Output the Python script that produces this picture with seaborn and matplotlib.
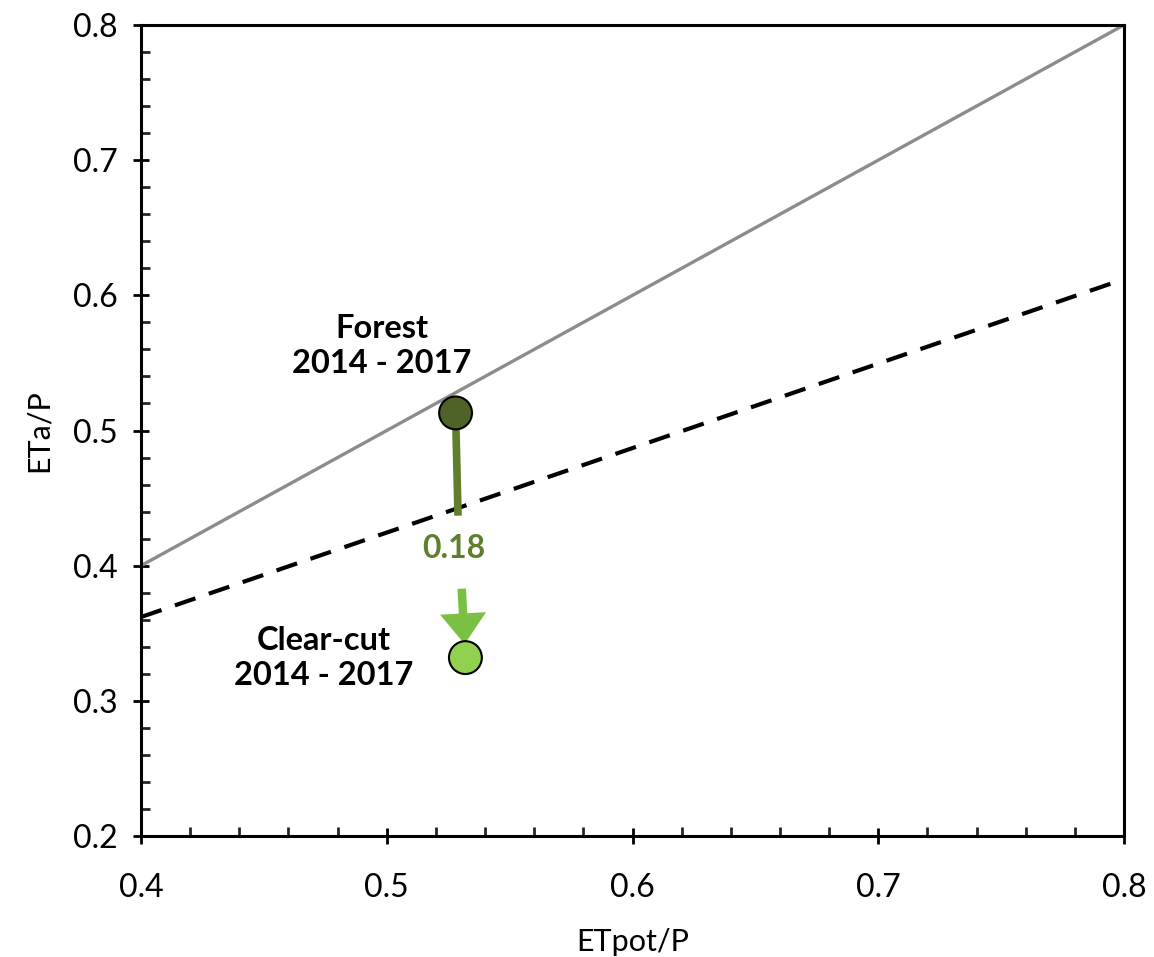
import numpy as np
import pandas as pd
import matplotlib
matplotlib.use("Agg")
import matplotlib.pyplot as plt
import seaborn as sns
from matplotlib.ticker import MultipleLocator

# ---- data ----
one_to_one_x = [0.4, 0.8]
one_to_one_y = [0.4, 0.8]
dashed_x = [0.4, 0.8]
dashed_y = [0.362, 0.612]
site_names = ["Forest", "Clear-cut"]
site_labels = ["Forest\n2014 - 2017", "Clear-cut\n2014 - 2017"]
etpot_p = [0.528, 0.532]
eta_p = [0.513, 0.332]
delta_label = "0.18"

sns.set_theme(style="ticks")
plt.rcParams['font.family'] = ['Lato', 'DejaVu Sans']
plt.rcParams['text.color'] = 'black'
plt.rcParams['axes.labelcolor'] = 'black'

fig = plt.figure(figsize=(11.54, 9.57), dpi=100)
ax = fig.add_axes([0.1222, 0.1264, 0.974 - 0.1222, 0.9739 - 0.1264])

sns.lineplot(x=one_to_one_x, y=one_to_one_y, ax=ax, color="#8c8c8c", lw=2.4)
sns.lineplot(x=dashed_x, y=dashed_y, ax=ax, color="black", lw=3)
ax.lines[-1].set_dashes([5.2, 3.4])

# arrow: upper dark part
ax.plot([etpot_p[0], 0.529], [eta_p[0], 0.437], color="#5f7f2f", lw=5.5,
        solid_capstyle="butt", zorder=3)
ax.text(0.5275, 0.413, delta_label, color="#5f7f2f", fontsize=23,
        fontweight="bold", ha="center", va="center")
ax.annotate("", xy=(etpot_p[1] - 0.0003, 0.342), xytext=(0.5305, 0.383),
            arrowprops=dict(arrowstyle="simple,head_length=1.3,head_width=1.95,tail_width=0.36",
                            mutation_scale=17, color="#7ac143", lw=0,
                            shrinkA=0, shrinkB=0),
            zorder=3)

df = pd.DataFrame({"site": site_names, "x": etpot_p, "y": eta_p})
sns.scatterplot(data=df, x="x", y="y", hue="site", ax=ax,
                palette={"Forest": "#4f6228", "Clear-cut": "#92d050"},
                s=560, edgecolor="black", linewidth=1.5, legend=False, zorder=4)

ax.text(0.498, 0.5625, site_labels[0], fontsize=23.5, fontweight="bold",
        ha="center", va="center", linespacing=1.25, color="black")
ax.text(0.4745, 0.3317, site_labels[1], fontsize=23.5, fontweight="bold",
        ha="center", va="center", linespacing=1.25, color="black")

ax.set_xlim(0.4, 0.8)
ax.set_ylim(0.2, 0.8)
ax.xaxis.set_major_locator(MultipleLocator(0.1))
ax.yaxis.set_major_locator(MultipleLocator(0.1))
ax.xaxis.set_minor_locator(MultipleLocator(0.02))
ax.yaxis.set_minor_locator(MultipleLocator(0.02))
ax.xaxis.set_major_formatter(matplotlib.ticker.FormatStrFormatter('%.1f'))
ax.yaxis.set_major_formatter(matplotlib.ticker.FormatStrFormatter('%.1f'))

for s in ax.spines.values():
    s.set_visible(True)
    s.set_linewidth(2.2)
    s.set_color("black")
ax.tick_params(which="major", direction="inout", length=11, width=2.0,
               labelsize=23, colors="black")
ax.tick_params(axis="x", which="major", pad=21)
ax.tick_params(axis="y", which="major", pad=11)
ax.tick_params(which="minor", direction="in", length=6.5, width=2.0)
ax.tick_params(top=False, right=False, which="both")

ax.set_xlabel("ETpot/P", fontsize=22, labelpad=18)
ax.set_ylabel("ETa/P", fontsize=22, labelpad=15)

fig.savefig("out.png", dpi=100, facecolor="white")
